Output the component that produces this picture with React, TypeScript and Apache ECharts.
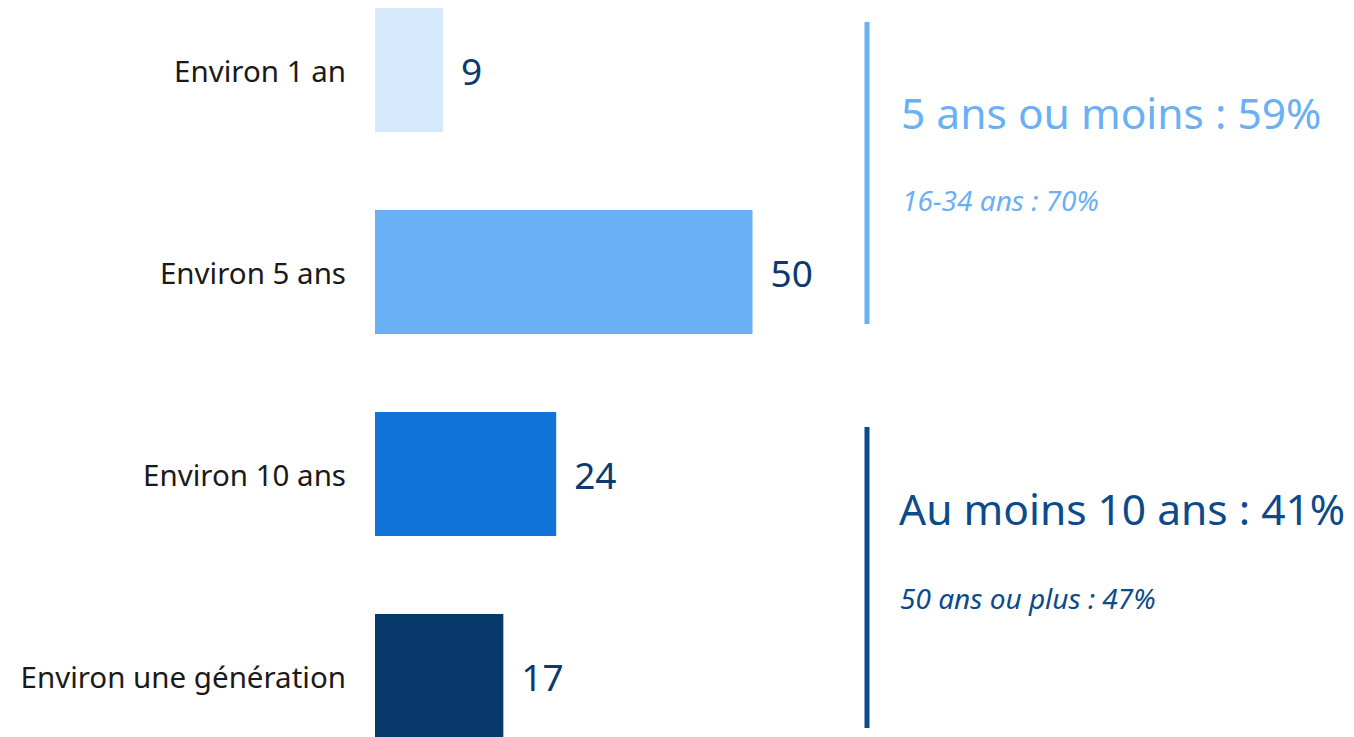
import React, { useEffect, useRef } from "react";
import * as echarts from "echarts";

const categories = ["Environ 1 an", "Environ 5 ans", "Environ 10 ans", "Environ une génération"];
const values = [9, 50, 24, 17];
const barColors = ["#d6e8fb", "#6ab0f5", "#0f73d8", "#073a6b"];

const groupTitles = ["5 ans ou moins : 59%", "Au moins 10 ans : 41%"];
const groupNotes = ["16-34 ans : 70%", "50 ans ou plus : 47%"];
const groupColors = ["#6ab0f5", "#0b4a8b"];

const FONT = "'Century Gothic', 'Noto Sans', sans-serif";
const OFF = 31; // inner canvas is shifted up by this many pixels

export default function App() {
  const ref = useRef<HTMLDivElement>(null);
  useEffect(() => {
    if (!ref.current) return;
    const chart = echarts.init(ref.current, undefined, { renderer: "svg" });
    chart.setOption({
      animation: false,
      backgroundColor: "#ffffff",
      grid: { left: 375, width: 755, top: 0, bottom: 0, containLabel: false },
      xAxis: {
        type: "value",
        min: 0,
        max: 100,
        show: false,
      },
      yAxis: {
        type: "category",
        inverse: true,
        data: categories,
        axisLine: { show: false },
        axisTick: { show: false },
        axisLabel: {
          margin: 29,
          fontSize: 29.5,
          color: "#1a1a1a",
          fontFamily: FONT,
        },
      },
      series: [
        {
          type: "bar",
          data: values.map((v, i) => ({ value: v, itemStyle: { color: barColors[i] } })),
          barCategoryGap: "38.6%",
          label: {
            show: true,
            position: "right",
            distance: 18,
            fontSize: 37,
            color: "#0c3a6e",
            fontFamily: FONT,
          },
        },
      ],
      graphic: [
        { type: "line", shape: { x1: 867, y1: 22 + OFF, x2: 867, y2: 324 + OFF }, style: { stroke: groupColors[0], lineWidth: 5 } },
        { type: "line", shape: { x1: 867, y1: 427 + OFF, x2: 867, y2: 728 + OFF }, style: { stroke: groupColors[1], lineWidth: 5 } },
        { type: "text", x: 901, y: 112 + OFF, style: { text: groupTitles[0], fill: groupColors[0], fontSize: 42.5, fontFamily: FONT, verticalAlign: "middle" } },
        { type: "text", x: 902, y: 200 + OFF, style: { text: groupNotes[0], fill: groupColors[0], fontSize: 28, fontStyle: "italic", fontFamily: FONT, verticalAlign: "middle" } },
        { type: "text", x: 899, y: 508 + OFF, style: { text: groupTitles[1], fill: groupColors[1], fontSize: 42.5, fontFamily: FONT, verticalAlign: "middle" } },
        { type: "text", x: 900, y: 598 + OFF, style: { text: groupNotes[1], fill: groupColors[1], fontSize: 28, fontStyle: "italic", fontFamily: FONT, verticalAlign: "middle" } },
      ],
    });
    return () => chart.dispose();
  }, []);
  return (
    <div style={{ position: "fixed", left: 0, top: 0, width: 1354, height: 737, overflow: "hidden", background: "#fff" }}>
      <div
        ref={ref}
        style={{ position: "absolute", left: 0, top: -OFF, width: 1354, height: 808 }}
      />
    </div>
  );
}
